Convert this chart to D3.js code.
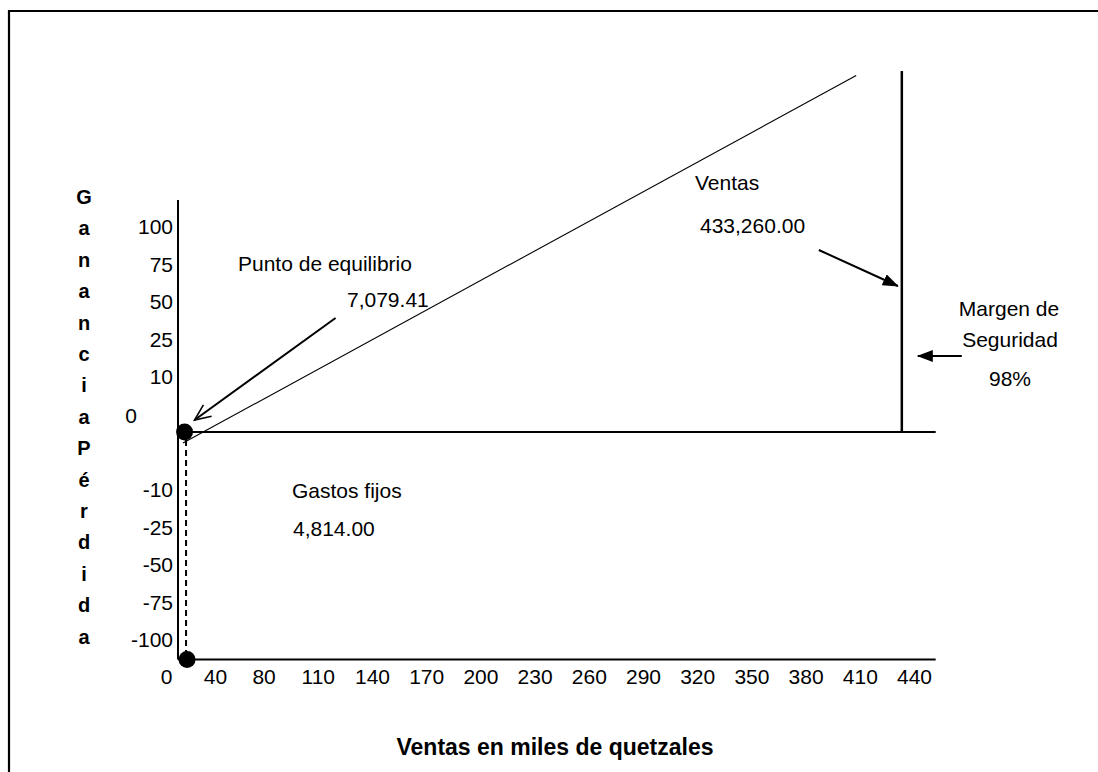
<!DOCTYPE html>
<html><head><meta charset="utf-8">
<script src="https://cdn.jsdelivr.net/npm/d3@7"></script>
<style>
html,body{margin:0;padding:0;background:#fff;}
svg{display:block;}
text{font-family:"Liberation Sans",Arial,sans-serif;fill:#000;}
</style>
</head><body>
<svg id="chart" width="1098" height="772"></svg>
<script>
// ---------- data ----------
const xTicks = [0,40,80,110,140,170,200,230,260,290,320,350,380,410,440];
const yTicks = [100,75,50,25,10,0,-10,-25,-50,-75,-100];
const yAxisLetters = ["G","a","n","a","n","c","i","a","P","é","r","d","i","d","a"];
const xTitle = "Ventas en miles de quetzales";
const breakEven = 7.07941;      // miles de quetzales
const totalSales = 433.26;      // miles de quetzales
const fixedCosts = 4.814;       // miles de quetzales
const marginPct = 98;
const salesLineX = [5.4, 408];
const salesLineY = [-1.9, 201];
const marginTopY = 204;
const yFloor = -113;
const yTop = 118;
const xMax = 452;

// ---------- scales ----------
const svg = d3.select("#chart");
svg.append("rect").attr("width",1098).attr("height",772).attr("fill","#fff");

const axisX0 = 178, xStep = 54.2, lastX = 914;
const x = d3.scaleLinear()
  .domain(xTicks)
  .range(xTicks.map((d,i)=> i===0 ? axisX0 : i===1 ? 215 : lastX-(xTicks.length-1-i)*xStep));
const ySp = 37.5;
const y = d3.scaleLinear()
  .domain(yTicks)
  .range(yTicks.map((d,i)=> i<5 ? 227+i*ySp : i===5 ? 432 : 490+(i-6)*ySp));

const fmt = d3.format(",.2f");
const plain = d => String(d);

// frame
svg.append("path").attr("d","M9,790 L9,11 L1110,11").attr("fill","none")
  .attr("stroke","#000").attr("stroke-width",2.2);

// markers
const defs = svg.append("defs");
defs.append("marker").attr("id","fillhead").attr("viewBox","0 0 16 12")
  .attr("refX",15).attr("refY",6).attr("markerWidth",16).attr("markerHeight",12)
  .attr("markerUnits","userSpaceOnUse").attr("orient","auto")
  .append("path").attr("d","M0,0 L16,6 L0,12 Z").attr("fill","#000");
defs.append("marker").attr("id","openhead").attr("viewBox","0 0 20 20")
  .attr("refX",18).attr("refY",10).attr("markerWidth",20).attr("markerHeight",20)
  .attr("markerUnits","userSpaceOnUse").attr("orient","auto")
  .append("path").attr("d","M2,3 L18,10 L2,17").attr("fill","none").attr("stroke","#000").attr("stroke-width",1.6);

// axes lines
const g = svg.append("g");
g.append("line").attr("x1",x(0)).attr("x2",x(0)).attr("y1",y(yTop)).attr("y2",y(yFloor))
  .attr("stroke","#000").attr("stroke-width",2);
g.append("line").attr("x1",x(0)).attr("x2",x(xMax)).attr("y1",y(0)).attr("y2",y(0))
  .attr("stroke","#000").attr("stroke-width",2);
g.append("line").attr("x1",x(0)).attr("x2",x(xMax)).attr("y1",y(yFloor)).attr("y2",y(yFloor))
  .attr("stroke","#000").attr("stroke-width",2);

// x axis labels
const xa = svg.append("g").attr("transform",`translate(0,${y(yFloor)})`)
  .call(d3.axisBottom(x).tickValues(xTicks).tickSize(0).tickPadding(10).tickFormat(plain));
xa.select(".domain").remove();
xa.selectAll("text").attr("font-size",21).attr("font-family","Liberation Sans, Arial, sans-serif")
  .attr("dx",d=> d===0 ? -12 : 0);

// y axis labels
const ya = svg.append("g").attr("transform",`translate(${x(0)},0)`)
  .call(d3.axisLeft(y).tickValues(yTicks.filter(d=>d!==0)).tickSize(0).tickPadding(5).tickFormat(plain));
ya.select(".domain").remove();
ya.selectAll("text").attr("font-size",21).attr("font-family","Liberation Sans, Arial, sans-serif");
svg.append("text").attr("x",x(0)-47).attr("y",y(0)-17).attr("text-anchor","middle")
  .attr("dominant-baseline","central").attr("font-size",21).text(plain(yTicks[5]));

// vertical y title letters
svg.append("g").selectAll("text").data(yAxisLetters).join("text")
  .attr("x",84).attr("y",(d,i)=>197+i*31.4).attr("text-anchor","middle")
  .attr("dominant-baseline","central").attr("font-weight","bold").attr("font-size",20).text(d=>d);

// x title
svg.append("text").attr("x",555).attr("y",747).attr("text-anchor","middle")
  .attr("dominant-baseline","central").attr("font-weight","bold").attr("font-size",23).text(xTitle);

// sales line
const line = d3.line().x(d=>x(d[0])).y(d=>y(d[1]));
svg.append("path").datum(salesLineX.map((v,i)=>[v,salesLineY[i]])).attr("d",line)
  .attr("fill","none").attr("stroke","#000").attr("stroke-width",1.1);

// total sales vertical line
svg.append("line").attr("x1",x(totalSales)).attr("x2",x(totalSales)).attr("y1",y(marginTopY)).attr("y2",y(0))
  .attr("stroke","#000").attr("stroke-width",2.5);

// dashed break-even drop
svg.append("line").attr("x1",x(breakEven)+1.5).attr("x2",x(breakEven)+1.5).attr("y1",y(0)+8).attr("y2",y(yFloor))
  .attr("stroke","#000").attr("stroke-width",2).attr("stroke-dasharray","6,4");

// dots
svg.append("g").selectAll("circle").data([[breakEven,0],[breakEven,yFloor]]).join("circle")
  .attr("cx",(d,i)=>x(d[0])+(i?2.5:0)).attr("cy",d=>y(d[1])).attr("r",8.5).attr("fill","#000");

// annotations
const bx = x(breakEven), by = y(0);
svg.append("text").attr("x",238).attr("y",263).attr("dominant-baseline","central").attr("font-size",21).text("Punto de equilibrio");
svg.append("text").attr("x",347).attr("y",299).attr("dominant-baseline","central").attr("font-size",21).text(fmt(breakEven*1000));
svg.append("line").attr("x1",bx+151).attr("y1",by-114).attr("x2",bx+10).attr("y2",by-12)
  .attr("stroke","#000").attr("stroke-width",2).attr("marker-end","url(#openhead)");

svg.append("text").attr("x",292).attr("y",490).attr("dominant-baseline","central").attr("font-size",21).text("Gastos fijos");
svg.append("text").attr("x",293).attr("y",528).attr("dominant-baseline","central").attr("font-size",21).text(fmt(fixedCosts*1000));

const vx = x(totalSales);
svg.append("text").attr("x",695).attr("y",182).attr("dominant-baseline","central").attr("font-size",21).text("Ventas");
svg.append("text").attr("x",700).attr("y",225).attr("dominant-baseline","central").attr("font-size",21).text(fmt(totalSales*1000));
svg.append("line").attr("x1",vx-83).attr("y1",250).attr("x2",vx-4).attr("y2",286)
  .attr("stroke","#000").attr("stroke-width",2).attr("marker-end","url(#fillhead)");

svg.append("text").attr("x",1009).attr("y",308).attr("text-anchor","middle").attr("dominant-baseline","central").attr("font-size",21).text("Margen de");
svg.append("text").attr("x",1010).attr("y",339).attr("text-anchor","middle").attr("dominant-baseline","central").attr("font-size",21).text("Seguridad");
svg.append("text").attr("x",1010).attr("y",378).attr("text-anchor","middle").attr("dominant-baseline","central").attr("font-size",21).text(marginPct+"%");
svg.append("line").attr("x1",vx+60).attr("y1",356).attr("x2",vx+16).attr("y2",356)
  .attr("stroke","#000").attr("stroke-width",2).attr("marker-end","url(#fillhead)");
</script>
</body></html>
